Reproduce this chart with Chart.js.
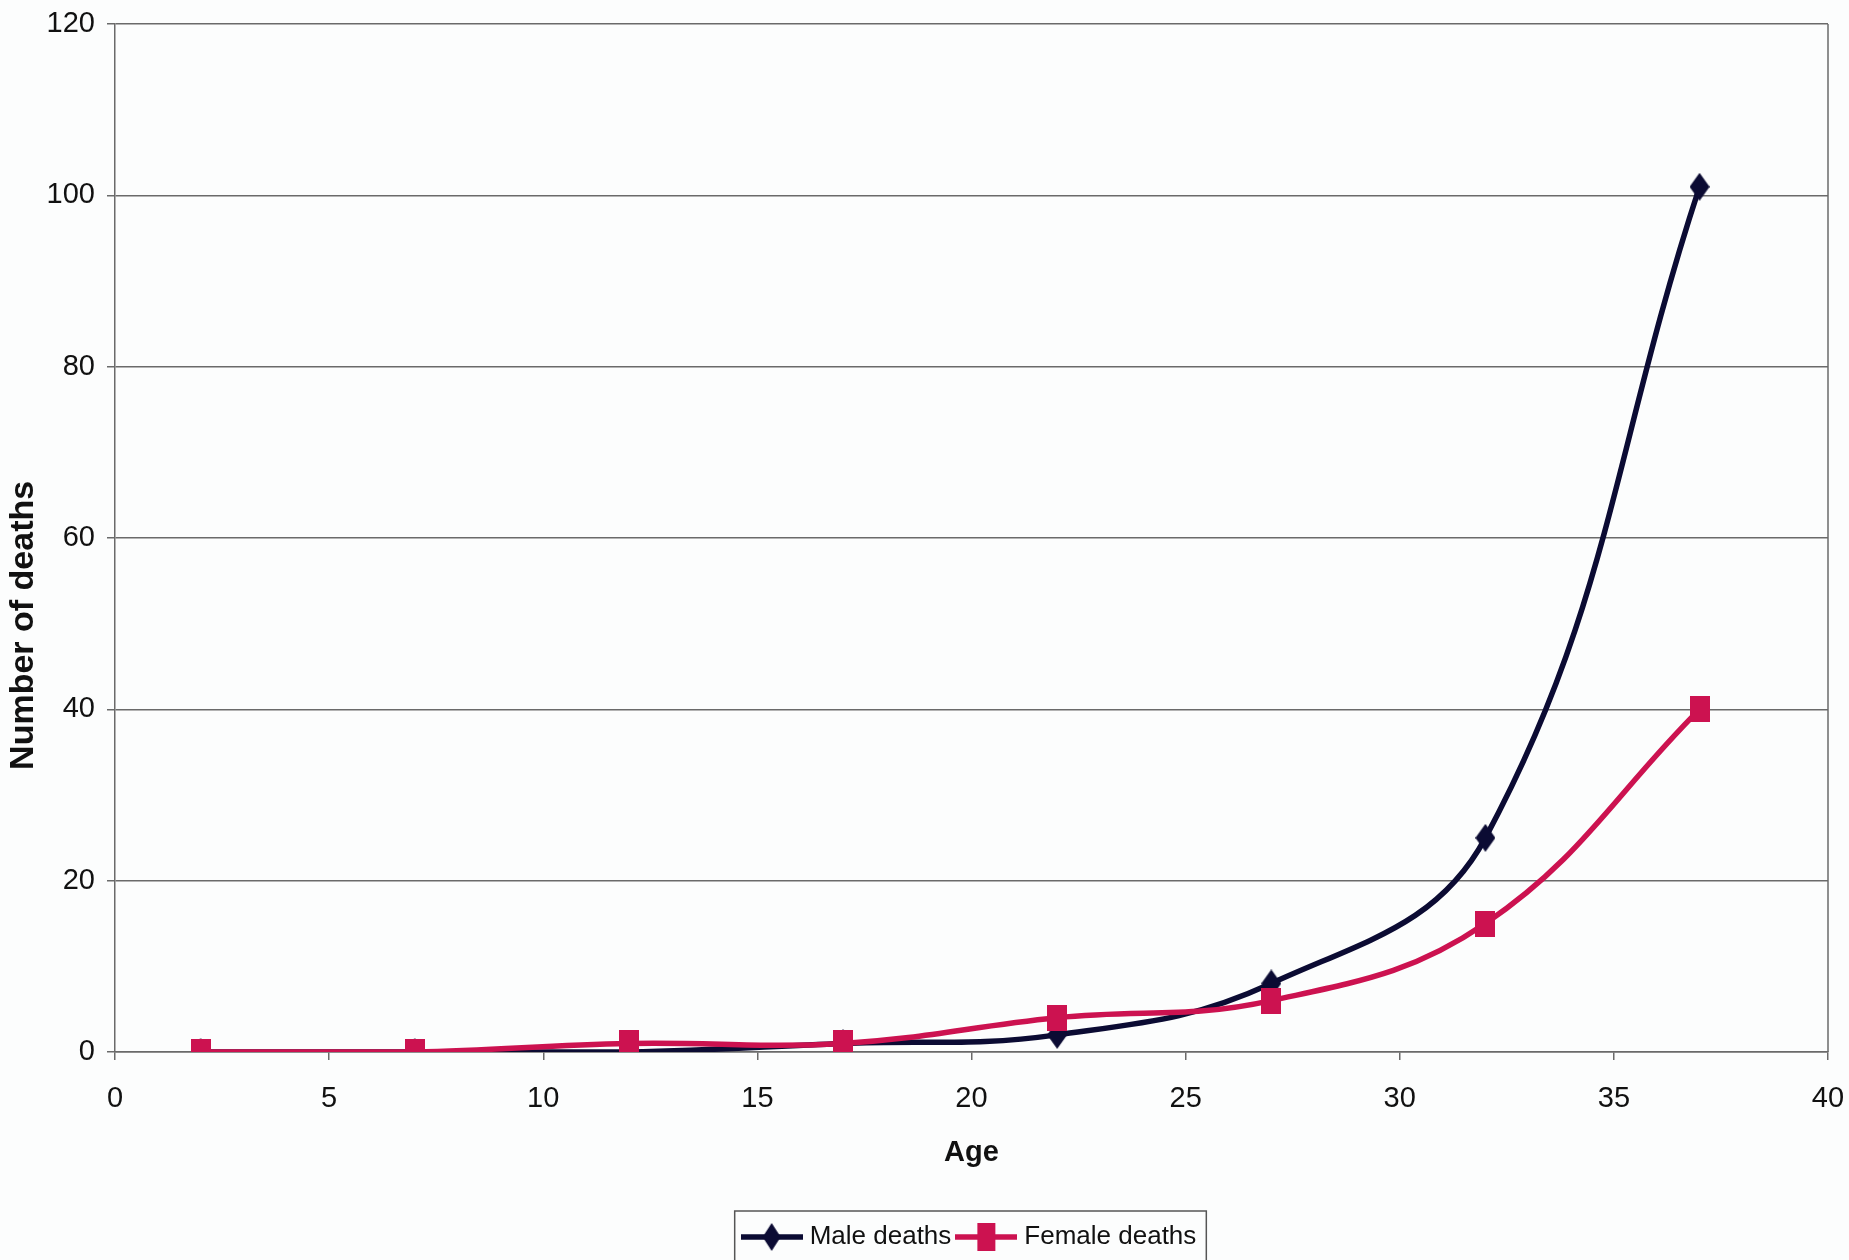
<!DOCTYPE html>
<html><head><meta charset="utf-8">
<script src="https://cdn.jsdelivr.net/npm/chart.js@4/dist/chart.umd.min.js"></script>
<style>html,body{margin:0;padding:0;background:#fcfdfd;overflow:hidden}#wrap{width:1849px;height:1260px;position:relative}</style>
</head><body><div id="wrap"><canvas id="c" width="1849" height="1260"></canvas></div>
<script>
const ages = [2, 7, 12, 17, 22, 27, 32, 37];
const maleDeaths = [0, 0, 0, 1, 2, 8, 25, 101];
const femaleDeaths = [0, 0, 1, 1, 4, 6, 15, 40];
const seriesNames = ['Male deaths', 'Female deaths'];
const xTickValues = [0, 5, 10, 15, 20, 25, 30, 35, 40];
const yTickValues = [0, 20, 40, 60, 80, 100, 120];
const xTitle = 'Age';
const yTitle = 'Number of deaths';

const MALE = '#0b0b33';
const FEMALE = '#cc1250';
const FONT = "'Liberation Sans',Arial,sans-serif";

function marker(kind, color, w, h) {
  const c = document.createElement('canvas');
  c.width = w; c.height = h;
  const g = c.getContext('2d');
  g.fillStyle = color;
  if (kind === 'diamond') {
    g.beginPath(); g.moveTo(w / 2, 0); g.lineTo(w, h / 2); g.lineTo(w / 2, h); g.lineTo(0, h / 2); g.closePath(); g.fill();
  } else {
    g.fillRect(0, 0, w, h);
  }
  return c;
}
function legendIcon(kind, color) {
  const W = 62, H = 30;
  const c = document.createElement('canvas');
  c.width = W; c.height = H;
  const g = c.getContext('2d');
  g.strokeStyle = color; g.lineWidth = 5.5;
  g.beginPath(); g.moveTo(0, H / 2); g.lineTo(W, H / 2); g.stroke();
  const m = marker(kind, color, 18, 28);
  g.drawImage(m, (W - m.width) / 2, (H - m.height) / 2);
  return c;
}
const maleMarker = marker('diamond', MALE, 20, 28);
const femaleMarker = marker('square', FEMALE, 20, 26);
const maleIcon = legendIcon('diamond', MALE);
const femaleIcon = legendIcon('square', FEMALE);

const framePlugin = {
  id: 'frames',
  beforeDraw(chart) {
    const ctx = chart.ctx;
    ctx.save();
    ctx.fillStyle = '#fcfdfd';
    ctx.fillRect(0, 0, chart.width, chart.height);
    ctx.restore();
  },
  afterLayout(chart) {
    const lg = chart.legend, a = chart.chartArea;
    if (!lg) return;
    const shift = (a.left + a.right) / 2 - (lg.left + lg.right) / 2;
    lg.left += shift; lg.right += shift;
    (lg.legendHitBoxes || []).forEach(h => { h.left += shift; });
  },
  afterDraw(chart) {
    const ctx = chart.ctx, a = chart.chartArea;
    ctx.save();
    ctx.strokeStyle = '#6a6a6a'; ctx.lineWidth = 1.5;
    ctx.beginPath(); ctx.moveTo(a.right, a.top); ctx.lineTo(a.right, a.bottom); ctx.stroke();
    // y-axis title, placed lower than centre as in the original
    ctx.translate(24, a.top + (a.bottom - a.top) * 0.585);
    ctx.rotate(-Math.PI / 2);
    ctx.fillStyle = '#111';
    ctx.font = "bold 34px 'Liberation Sans',Arial,sans-serif";
    ctx.textAlign = 'center'; ctx.textBaseline = 'middle';
    ctx.fillText(yTitle, 0, 0);
    ctx.setTransform(1, 0, 0, 1, 0, 0);
    const hb = chart.legend.legendHitBoxes;
    if (hb && hb.length) {
      let l = Infinity, r = -Infinity, t = Infinity, b = -Infinity;
      hb.forEach(h => { l = Math.min(l, h.left); r = Math.max(r, h.left + h.width); t = Math.min(t, h.top); b = Math.max(b, h.top + h.height); });
      ctx.strokeStyle = '#555'; ctx.lineWidth = 1.5;
      ctx.strokeRect(l - 12, t - 13, r - l + 22, b - t + 45);
    }
    ctx.restore();
  }
};

new Chart(document.getElementById('c'), {
  type: 'line',
  data: {
    datasets: [
      { label: seriesNames[0], data: ages.map((x, i) => ({ x, y: maleDeaths[i] })), borderColor: MALE, backgroundColor: MALE,
        borderWidth: 5.5, tension: 0.4, pointStyle: maleMarker, pointRadius: 10, legendIcon: maleIcon, order: 1 },
      { label: seriesNames[1], data: ages.map((x, i) => ({ x, y: femaleDeaths[i] })), borderColor: FEMALE, backgroundColor: FEMALE,
        borderWidth: 5.5, tension: 0.4, pointStyle: femaleMarker, pointRadius: 10, legendIcon: femaleIcon, order: 0 }
    ]
  },
  options: {
    responsive: false,
    animation: false,
    devicePixelRatio: 1,
    layout: { padding: { left: 0, right: 21, top: 24, bottom: 0 } },
    plugins: {
      tooltip: { enabled: false },
      legend: {
        position: 'bottom',
        labels: {
          usePointStyle: true,
          pointStyleWidth: 50,
          padding: 10,
          color: '#111',
          font: { family: FONT, size: 26 },
          generateLabels(chart) {
            return chart.data.datasets.map((d, i) => ({
              text: d.label, pointStyle: d.legendIcon, fillStyle: d.borderColor, strokeStyle: d.borderColor,
              lineWidth: 0, hidden: false, datasetIndex: i, fontColor: '#111'
            }));
          }
        }
      }
    },
    scales: {
      x: {
        type: 'linear', min: xTickValues[0], max: xTickValues[xTickValues.length - 1],
        afterBuildTicks(s) { s.ticks = xTickValues.map(v => ({ value: v })); },
        afterFit(s) { s.height = 162; s.paddingLeft = 0; s.paddingRight = 0; },
        grid: { drawOnChartArea: false, drawTicks: true, tickLength: 8, color: '#6a6a6a', lineWidth: 1.5 },
        border: { display: true, color: '#6a6a6a', width: 1.5 },
        ticks: { color: '#111', font: { family: FONT, size: 29 }, padding: 22, maxRotation: 0 },
        title: { display: true, text: xTitle, color: '#111', font: { family: FONT, size: 29, weight: 'bold' }, padding: { top: 44, bottom: 44 } }
      },
      y: {
        min: yTickValues[0], max: yTickValues[yTickValues.length - 1],
        afterBuildTicks(s) { s.ticks = yTickValues.map(v => ({ value: v })); },
        afterFit(s) { s.width = 115; s.paddingTop = 0; s.paddingBottom = 0; },
        grid: { drawTicks: true, tickLength: 8, color: '#6a6a6a', lineWidth: 1.5 },
        border: { display: true, color: '#6a6a6a', width: 1.5 },
        ticks: { color: '#111', font: { family: FONT, size: 29 }, padding: 12 },
        title: { display: false, text: yTitle }
      }
    }
  },
  plugins: [framePlugin]
});
</script></body></html>
